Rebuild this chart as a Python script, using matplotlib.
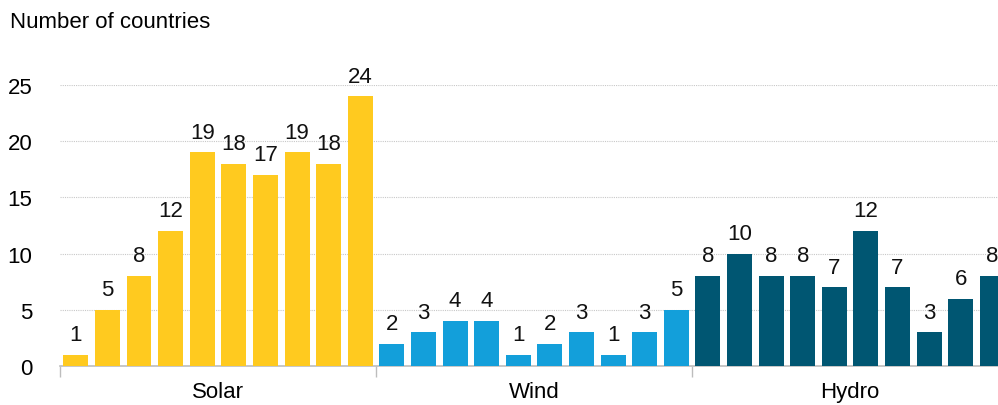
import matplotlib.pyplot as plt
import numpy as np

plt.rcParams['font.family'] = ['Liberation Sans', 'DejaVu Sans']

# data
groups = ['Solar', 'Wind', 'Hydro']
solar = [1, 5, 8, 12, 19, 18, 17, 19, 18, 24]
wind = [2, 3, 4, 4, 1, 2, 3, 1, 3, 5]
hydro = [8, 10, 8, 8, 7, 12, 7, 3, 6, 8]
colors = ['#ffca1f', '#139fda', '#005672']
y_ticks = [0, 5, 10, 15, 20, 25]

fig = plt.figure(figsize=(9.98, 4.06), dpi=100)
ax = fig.add_axes([60 / 998, 39 / 406, 1 - 60 / 998, (367 - 86) / 406])

series = [solar, wind, hydro]
for g, vals in enumerate(series):
    x = np.arange(len(vals)) + g * 10
    bars = ax.bar(x, vals, width=0.79, color=colors[g], zorder=3)
    for xi, v in zip(x, vals):
        ax.annotate(str(v), (xi, v), xytext=(0, 7), textcoords='offset points',
                    ha='center', va='bottom', fontsize=16, color='#111111')

ax.set_yticks(y_ticks)
ax.tick_params(axis='y', length=0, labelsize=16, pad=20)
ax.yaxis.grid(True, linestyle=(0, (1, 1)), color='#c8c8c8', linewidth=0.8, zorder=0)

# group separators as ticks on the x axis
ax.set_xticks([-0.5, 9.5, 19.5, 29.5])
ax.set_xticklabels([])
ax.tick_params(axis='x', length=8, color='#bdbdbd', width=1)
ax.set_xlim(-0.5, 29.18)
ax.set_ylim(0, 25)
for g, name in enumerate(groups):
    ax.text(g * 10 + 4.5, -2.3, name, ha='center', va='center', fontsize=16)

for s in ['top', 'right', 'left']:
    ax.spines[s].set_visible(False)
ax.spines['bottom'].set_color('#bdbdbd')
ax.spines['bottom'].set_linewidth(1.2)
ax.spines['bottom'].set_zorder(2)

fig.text(10 / 998, 1 - 22 / 406, 'Number of countries', ha='left', va='center', fontsize=16)

fig.savefig('out.png', dpi=100)
